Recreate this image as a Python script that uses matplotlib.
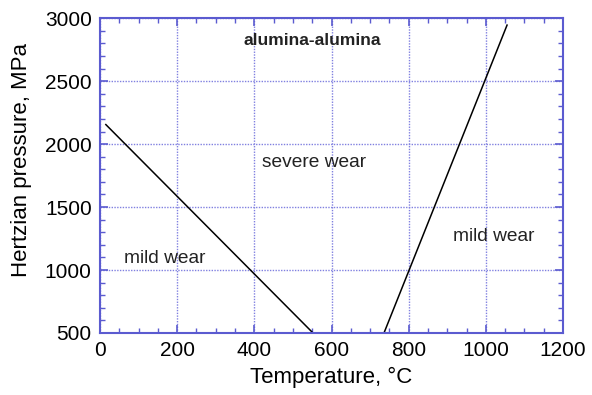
import matplotlib
matplotlib.use("Agg")
import matplotlib.pyplot as plt
from matplotlib.ticker import MultipleLocator

plt.rcParams['font.family'] = ['Liberation Sans', 'DejaVu Sans']

# transition lines between wear regimes (temperature, pressure)
low_temp_x = [15, 552]
low_temp_y = [2155, 500]
high_temp_x = [736, 1055]
high_temp_y = [500, 2945]

# region labels: (x, y, text, bold)
labels = [
    (550, 2825, "alumina-alumina", True),
    (555, 1850, "severe wear", False),
    (168, 1095, "mild wear", False),
    (1020, 1270, "mild wear", False),
]

axis_blue = "#5b5bd0"
grid_blue = "#8080e0"

fig = plt.figure(figsize=(5.92, 3.95), dpi=100)
ax = fig.add_axes([0.169, 0.157, 0.782, 0.797])

ax.plot(low_temp_x, low_temp_y, color="black", lw=1.1)
ax.plot(high_temp_x, high_temp_y, color="black", lw=1.1)

for x, y, txt, bold in labels:
    ax.text(x, y, txt, ha="center", va="center",
            fontsize=12.5 if bold else 13.8,
            fontweight="bold" if bold else "normal", color="#222222")

ax.set_xlim(0, 1200)
ax.set_ylim(500, 3000)
ax.xaxis.set_major_locator(MultipleLocator(200))
ax.xaxis.set_minor_locator(MultipleLocator(50))
ax.yaxis.set_major_locator(MultipleLocator(500))
ax.yaxis.set_minor_locator(MultipleLocator(100))

ax.grid(True, which="major", color=grid_blue, ls=(0, (1, 1)), lw=1.0)
for sp in ax.spines.values():
    sp.set_color(axis_blue)
    sp.set_linewidth(1.5)
ax.tick_params(which="both", direction="in", top=True, right=True, color=axis_blue,
               labelsize=15, pad=6)
ax.tick_params(which="major", length=6, width=1.2)
ax.tick_params(which="minor", length=3.5, width=1.0)

ax.set_xlabel("Temperature, °C", fontsize=16, labelpad=5)
ax.set_ylabel("Hertzian pressure, MPa", fontsize=16)
ax.yaxis.set_label_coords(-0.148, 0.55)

fig.savefig("out.png", dpi=100)
